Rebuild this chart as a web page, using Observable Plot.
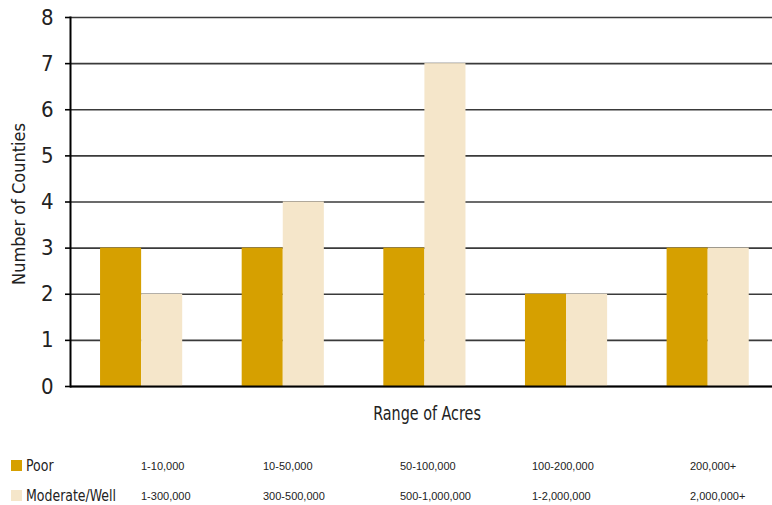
<!DOCTYPE html>
<html><head><meta charset="utf-8">
<script src="https://cdn.jsdelivr.net/npm/d3@7"></script>
<script src="https://cdn.jsdelivr.net/npm/@observablehq/plot@0.6"></script>
<style>
html,body{margin:0;padding:0;background:#fff;}
#wrap{position:relative;width:772px;height:505px;overflow:hidden;font-family:"DejaVu Sans Condensed","DejaVu Sans",sans-serif;font-stretch:condensed;color:#222;}
#chart svg{display:block;overflow:visible;font-family:"DejaVu Sans Condensed","DejaVu Sans",sans-serif;font-stretch:condensed;}
.abs{position:absolute;white-space:nowrap;line-height:1;}
.xlabel{font-size:19px;transform:translate(-50%,-50%) scaleX(0.84);}
.ylabel{font-size:18px;transform:translate(-50%,-50%) rotate(-90deg);}
.sw{position:absolute;width:11px;height:11px;}
.lname{font-size:16px;transform-origin:0 50%;transform:translateY(-50%) scaleX(0.87);}
.rng{font-family:"Liberation Sans",Arial,sans-serif;font-stretch:normal;font-size:11px;transform:translateY(-50%);}
</style></head><body>
<div id="wrap"><div id="chart"></div></div>
<script>
// ---- data ----
const poorRanges = ["1-10,000","10-50,000","50-100,000","100-200,000","200,000+"];
const moderateRanges = ["1-300,000","300-500,000","500-1,000,000","1-2,000,000","2,000,000+"];
const poorCounts = [3,3,3,2,3];
const moderateCounts = [2,4,7,2,3];
const yTicks = [0,1,2,3,4,5,6,7,8];
const seriesNames = ["Poor","Moderate/Well"];
const seriesColors = ["#D6A000","#F5E6CA"];

const poorData = poorRanges.map((r,i)=>({range:r, value:poorCounts[i]}));
const modData = poorRanges.map((r,i)=>({range:r, value:moderateCounts[i]}));

const xRange = [70.3, 778.5];
const step = (xRange[1]-xRange[0])/poorRanges.length;
const half = step*0.58/2;

const chart = Plot.plot({
  width: 772,
  height: 400,
  marginLeft: 70,
  marginRight: 0,
  marginTop: 17,
  marginBottom: 14,
  x: {domain: poorRanges, range: xRange, round: false, paddingInner: 0.42, paddingOuter: 0.21, axis: null},
  y: {domain: [0,8], axis: null},
  marks: [
    Plot.ruleY(yTicks, {stroke: "#3a3a3a", strokeWidth: 1.6}),
    Plot.barY(poorData, {x: "range", y: "value", fill: seriesColors[0], insetRight: half}),
    Plot.barY(modData, {x: "range", y: "value", fill: seriesColors[1], insetLeft: half}),
    Plot.ruleY([0], {stroke: "#000", strokeWidth: 2}),
    Plot.axisY({ticks: yTicks, tickSize: 5, tickPadding: 12, fontSize: 22, stroke: "#000", strokeWidth: 1.6, fill: "#222", label: null}),
    Plot.frame({anchor: "left", stroke: "#000", strokeWidth: 2})
  ]
});
document.getElementById("chart").appendChild(chart);

const wrap = document.getElementById("wrap");
function add(cls, text, left, top){
  const d = document.createElement("div");
  d.className = "abs " + cls;
  d.textContent = text;
  d.style.left = left + "px"; d.style.top = top + "px";
  wrap.appendChild(d);
  return d;
}
add("ylabel", "Number of Counties", 19, 204);
add("xlabel", "Range of Acres", 427, 413);
const rowY = [466, 496];
const colX = [141, 263, 400, 532, 690];
seriesNames.forEach((name,i)=>{
  const s = document.createElement("div");
  s.className = "sw";
  s.style.left = "11px"; s.style.top = (rowY[i]-6) + "px";
  s.style.background = seriesColors[i];
  wrap.appendChild(s);
  add("lname", name, 26, rowY[i]);
});
poorRanges.forEach((r,i)=>add("rng", r, colX[i], rowY[0]));
moderateRanges.forEach((r,i)=>add("rng", r, colX[i], rowY[1]));
</script>
</body></html>
